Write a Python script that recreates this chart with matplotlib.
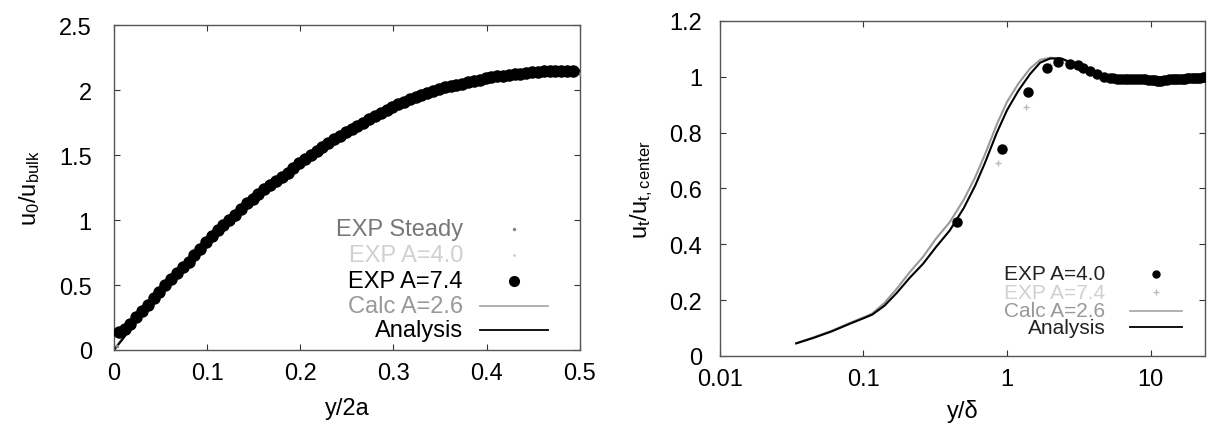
import matplotlib
matplotlib.use("Agg")
import matplotlib.pyplot as plt
from matplotlib.ticker import FuncFormatter, FixedLocator, NullLocator
from matplotlib.lines import Line2D

plt.rcParams['font.family'] = ['Liberation Sans', 'DejaVu Sans']
plt.rcParams['mathtext.default'] = 'regular'

# --- left panel: centreline velocity profile ---
exp74_x = [0.005, 0.0113, 0.0175, 0.0238, 0.03, 0.0363, 0.0425, 0.0488, 0.055, 0.0613,
           0.0675, 0.0738, 0.08, 0.0863, 0.0925, 0.0988, 0.105, 0.1113, 0.1175, 0.1238,
           0.13, 0.1363, 0.1425, 0.1488, 0.155, 0.1613, 0.1675, 0.1738, 0.18, 0.1863,
           0.1925, 0.1988, 0.205, 0.2113, 0.2175, 0.2238, 0.23, 0.2363, 0.2425, 0.2488,
           0.255, 0.2613, 0.2675, 0.2738, 0.28, 0.2863, 0.2925, 0.2988, 0.305, 0.3113,
           0.3175, 0.3238, 0.33, 0.3363, 0.3425, 0.3488, 0.355, 0.3613, 0.3675, 0.3738,
           0.38, 0.3863, 0.3925, 0.3988, 0.405, 0.4113, 0.4175, 0.4238, 0.43, 0.4363,
           0.4425, 0.4488, 0.455, 0.4613, 0.4675, 0.4738, 0.48, 0.4863, 0.4925]
exp74_y = [0.14, 0.16, 0.20, 0.25, 0.30, 0.35, 0.40, 0.45, 0.50, 0.545,
           0.59, 0.635, 0.68, 0.73, 0.78, 0.83, 0.88, 0.92, 0.96, 1.00,
           1.04, 1.085, 1.13, 1.165, 1.20, 1.235, 1.27, 1.30, 1.33, 1.365,
           1.40, 1.435, 1.47, 1.50, 1.53, 1.56, 1.59, 1.62, 1.65, 1.675,
           1.70, 1.725, 1.75, 1.775, 1.80, 1.825, 1.85, 1.87, 1.89, 1.91,
           1.93, 1.945, 1.96, 1.975, 1.99, 2.005, 2.02, 2.03, 2.04, 2.05,
           2.06, 2.07, 2.08, 2.09, 2.10, 2.105, 2.11, 2.115, 2.12, 2.125,
           2.13, 2.135, 2.14, 2.145, 2.15, 2.15, 2.15, 2.15, 2.15]
steady_x = [0.003, 0.02, 0.06, 0.11, 0.17, 0.23, 0.29, 0.35, 0.41, 0.47, 0.5]
steady_y = [0.03, 0.21, 0.54, 0.91, 1.30, 1.60, 1.83, 2.00, 2.09, 2.13, 2.12]
exp40_x = [0.01, 0.05, 0.12, 0.2, 0.3, 0.42, 0.49]
exp40_y = [0.12, 0.44, 0.98, 1.45, 1.86, 2.10, 2.13]
line_x = [0.0, 0.01, 0.03, 0.05, 0.07, 0.1, 0.13, 0.16, 0.2, 0.24, 0.28, 0.32,
          0.36, 0.4, 0.44, 0.48, 0.5]
calc_y = [0.0, 0.10, 0.29, 0.46, 0.61, 0.85, 1.05, 1.24, 1.47, 1.67, 1.82, 1.95,
          2.04, 2.10, 2.13, 2.15, 2.15]
analysis_y = [0.0, 0.09, 0.28, 0.45, 0.60, 0.84, 1.04, 1.23, 1.46, 1.66, 1.81, 1.94,
              2.03, 2.09, 2.12, 2.14, 2.15]

# --- right panel: wall-normal profile ---
dot_x = [0.45, 0.92, 1.40, 1.90, 2.27, 2.76, 3.1, 3.4, 3.8, 4.25, 4.7, 5.2, 5.5,
         5.8, 6.1, 6.4, 6.7, 7.0, 7.3, 7.7, 8.0, 8.4, 8.8, 9.2, 9.6, 10.0, 10.4,
         10.8, 11.1, 11.4, 11.9, 12.5, 13.0, 13.5, 14.0, 14.5, 15.0, 15.6, 16.2,
         16.8, 17.4, 18.0, 18.6, 19.3, 20.0, 20.7, 21.4, 22.2, 23.0, 23.8]
dot_y = [0.48, 0.74, 0.946, 1.03, 1.054, 1.047, 1.04, 1.03, 1.02, 1.01, 1.0, 0.996,
         0.995, 0.993, 0.993, 0.992, 0.992, 0.991, 0.991, 0.991, 0.99, 0.99, 0.99,
         0.99, 0.989, 0.989, 0.988, 0.988, 0.986, 0.985, 0.986, 0.988, 0.989, 0.99,
         0.99, 0.991, 0.991, 0.992, 0.992, 0.993, 0.993, 0.994, 0.994, 0.995, 0.995,
         0.996, 0.996, 0.996, 0.997, 0.997]
plus_x = [0.87, 1.36, 2.0, 2.6, 3.5, 5.0, 8.0, 12.0, 20.0]
plus_y = [0.69, 0.89, 1.04, 1.05, 1.03, 1.0, 0.995, 0.99, 1.0]
prof_x = [0.034, 0.045, 0.06, 0.08, 0.1, 0.115, 0.14, 0.17, 0.21, 0.26, 0.32, 0.4,
          0.5, 0.6, 0.7, 0.85, 1.0, 1.2, 1.45, 1.7, 2.0, 2.4, 2.8, 3.3, 4.0, 5.0,
          6.5, 9.0, 13.0, 18.0, 24.0]
prof_analysis = [0.045, 0.065, 0.088, 0.115, 0.135, 0.148, 0.18, 0.225, 0.28, 0.33,
                 0.39, 0.45, 0.53, 0.61, 0.69, 0.80, 0.88, 0.95, 1.01, 1.05, 1.065,
                 1.065, 1.05, 1.03, 1.01, 1.0, 0.995, 0.995, 0.998, 1.0, 1.0]
prof_calc = [0.046, 0.067, 0.09, 0.118, 0.138, 0.152, 0.19, 0.24, 0.30, 0.355,
             0.42, 0.48, 0.56, 0.64, 0.72, 0.83, 0.91, 0.975, 1.03, 1.06, 1.068,
             1.063, 1.048, 1.028, 1.01, 1.0, 0.996, 0.996, 0.998, 1.0, 1.0]

FS = 17
fmt = FuncFormatter(lambda v, p: "%g" % v)


def style_axes(ax):
    for s in ax.spines.values():
        s.set_color('#555555')
        s.set_linewidth(1.0)
        s.set_linestyle((0, (1.5, 1)))
    ax.tick_params(direction='in', length=4, width=0.8, top=True, right=True,
                   labelsize=FS, color='#333333')
    ax.xaxis.set_major_formatter(fmt)
    ax.yaxis.set_major_formatter(fmt)


def key(ax, rows, tx, lx0, lx1, fs):
    # gnuplot-like key: right-aligned text, sample to the right
    for label, tcol, y, kind, kw in rows:
        ax.text(tx, y, label, transform=ax.transAxes, ha='right', va='center',
                fontsize=fs, color=tcol)
        if kind == 'line':
            ax.add_line(Line2D([lx0, lx1], [y, y], transform=ax.transAxes, **kw))
        else:
            ax.add_line(Line2D([(lx0 + lx1) / 2], [y], transform=ax.transAxes,
                               linestyle='none', **kw))


fig = plt.figure(figsize=(12.1, 4.27), dpi=100)
ax1 = fig.add_axes([0.0942, 0.178, 0.385, 0.761])
ax2 = fig.add_axes([0.595, 0.164, 0.401, 0.785])

ax1.plot(line_x, calc_y, color='#999999', lw=1.5, zorder=2)
ax1.plot(line_x, analysis_y, color='black', lw=1.5, zorder=2)
ax1.plot(steady_x, steady_y, '.', color='#888888', ms=3, zorder=3)
ax1.plot(exp40_x, exp40_y, '.', color='#cccccc', ms=3, zorder=3)
ax1.plot(exp74_x, exp74_y, 'o', color='black', ms=8, mec='black', zorder=4)
ax1.set_xlim(0, 0.5)
ax1.set_ylim(0, 2.5)
ax1.xaxis.set_major_locator(FixedLocator([0, 0.1, 0.2, 0.3, 0.4, 0.5]))
ax1.yaxis.set_major_locator(FixedLocator([0, 0.5, 1, 1.5, 2, 2.5]))
style_axes(ax1)
ax1.tick_params(axis='y', pad=16)
ax1.tick_params(axis='x', pad=9)
ax1.set_xlabel('y/2a', fontsize=FS, labelpad=9)
ax1.set_ylabel('$u_0/u_{bulk}$', fontsize=FS, labelpad=12)
key(ax1, [
    ('EXP Steady', '#777777', 0.372, 'mark', dict(marker='.', color='#888888', ms=3)),
    ('EXP A=4.0', '#d0d0d0', 0.292, 'mark', dict(marker='.', color='#cccccc', ms=2)),
    ('EXP A=7.4', 'black', 0.212, 'mark', dict(marker='o', color='black', ms=7)),
    ('Calc A=2.6', '#999999', 0.135, 'line', dict(color='#aaaaaa', lw=1.3)),
    ('Analysis', 'black', 0.062, 'line', dict(color='black', lw=1.3)),
], 0.749, 0.785, 0.931, FS)

ax2.plot(prof_x, prof_calc, color='#999999', lw=1.5, zorder=2)
ax2.plot(prof_x, prof_analysis, color='black', lw=1.5, zorder=2)
ax2.plot(plus_x, plus_y, '+', color='#bbbbbb', ms=5, mew=1, zorder=3)
ax2.plot(dot_x, dot_y, 'o', color='black', ms=6.5, zorder=4)
ax2.set_xscale('log')
ax2.set_xlim(0.01, 24)
ax2.set_ylim(0, 1.2)
ax2.xaxis.set_major_locator(FixedLocator([0.01, 0.1, 1, 10]))
ax2.xaxis.set_minor_locator(NullLocator())
ax2.yaxis.set_major_locator(FixedLocator([0, 0.2, 0.4, 0.6, 0.8, 1, 1.2]))
style_axes(ax2)
ax2.tick_params(axis='y', pad=13)
ax2.tick_params(axis='x', pad=9)
ax2.set_xlabel('y/δ', fontsize=FS, labelpad=6)
ax2.set_ylabel('$u_t/u_{t,center}$', fontsize=FS, labelpad=10)
key(ax2, [
    ('EXP A=4.0', '#222222', 0.245, 'mark', dict(marker='o', color='black', ms=5)),
    ('EXP A=7.4', '#d0d0d0', 0.19, 'mark', dict(marker='+', color='#bbbbbb', ms=4)),
    ('Calc A=2.6', '#999999', 0.135, 'line', dict(color='#aaaaaa', lw=1.3)),
    ('Analysis', '#222222', 0.085, 'line', dict(color='black', lw=1.3)),
], 0.794, 0.845, 0.953, 15)

fig.savefig('out.png', dpi=100)
